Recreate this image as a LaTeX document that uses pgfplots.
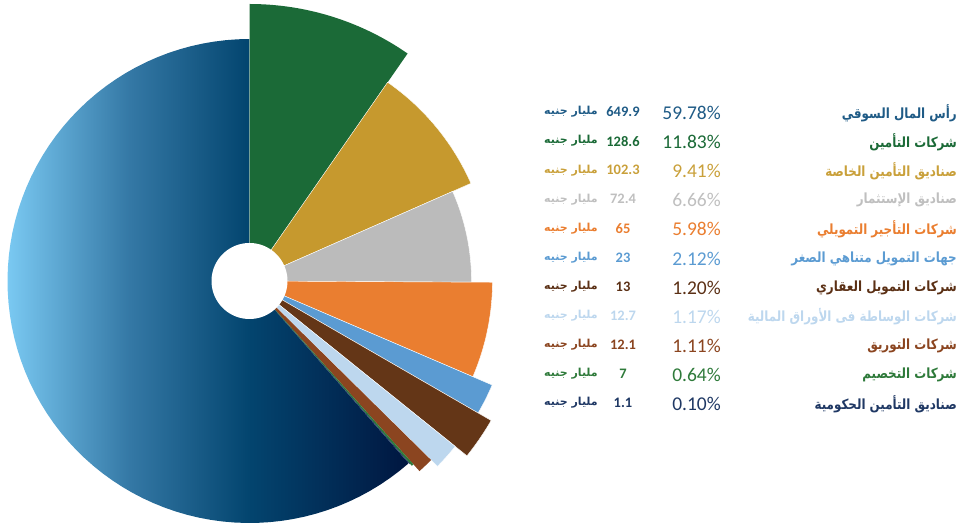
\documentclass[border=0pt]{standalone}
\usepackage{fontspec}
\setmainfont{Carlito}
\newfontfamily\arabicfont[Script=Arabic]{DejaVu Sans}
\newfontfamily\arabicnarrow[Script=Arabic, FakeStretch=0.85]{DejaVu Sans}
\TeXXeTstate=1
\usepackage{pgfplots}
\pgfplotsset{compat=1.18}

\definecolor{cBig}{HTML}{1F5B86}
\definecolor{cGreen}{HTML}{1B6A37}
\definecolor{cGold}{HTML}{C6992E}
\definecolor{cGray}{HTML}{BBBBBB}
\definecolor{cOrange}{HTML}{EA7E30}
\definecolor{cBlue}{HTML}{5B9BD2}
\definecolor{cBrown}{HTML}{643617}
\definecolor{cLight}{HTML}{BDD7EE}
\definecolor{cSienna}{HTML}{8B4520}
\definecolor{cGreen2}{HTML}{2E7A3A}
\definecolor{cNavy}{HTML}{1F3864}
\definecolor{tGold}{HTML}{C9A03A}
\definecolor{tGray}{HTML}{BFBFBF}
\definecolor{tBrown}{HTML}{5B3015}
\definecolor{cLightEdge}{HTML}{7AC9F2}
\definecolor{cMidBlue}{HTML}{3579A6}
\definecolor{cDeep}{HTML}{03456F}
\definecolor{cDark}{HTML}{001640}

% big slice: light blue at the left, dark navy at the right
\pgfdeclarehorizontalshading{bigblue}{100bp}{%
  color(0bp)=(cLightEdge); color(25bp)=(cLightEdge); color(40bp)=(cMidBlue);
  color(55bp)=(cDeep); color(75bp)=(cDark); color(100bp)=(cDark)}

% one wedge: options, start angle, end angle, radius (angles clockwise from the top)
\newcommand{\slice}[4]{%
  \addplot[#1, domain=#2:#3, samples=80, variable=\t]
    ({249.5+#4*sin(t)},{246+#4*cos(t)}) -- (axis cs:249.5,246) -- cycle;}

\begin{document}
\begin{tikzpicture}
\path[use as bounding box] (0,0) rectangle (961pt,527pt);
\begin{axis}[
    at={(0,0)}, anchor=south west,
    width=961pt, height=527pt, scale only axis,
    xmin=0, xmax=961, ymin=0, ymax=527,
    hide axis, clip=false]

  \slice{shading=bigblue, draw=none}{138.9}{360}{242}
  \slice{fill=cGreen, draw=none}{0}{34.8}{277}
  \slice{fill=cGold, draw=white, line width=0.4pt}{34.8}{66.2}{242}
  \slice{fill=cGray, draw=white, line width=0.4pt}{66.2}{90.3}{222}
  \slice{fill=cOrange, draw=white, line width=0.4pt}{90.3}{113.2}{243}
  \slice{fill=cBlue, draw=white, line width=0.4pt}{113.2}{120.0}{264}
  \slice{fill=cBrown, draw=white, line width=0.4pt}{120.0}{128.8}{279}
  \slice{fill=cLight, draw=white, line width=0.4pt}{128.8}{134.6}{264}
  \slice{fill=cSienna, draw=none}{134.6}{138.2}{255}
  \slice{fill=cGreen2, draw=none}{138.2}{138.7}{246}
  \slice{fill=cNavy, draw=none}{138.7}{138.9}{243}
  % hole
  \addplot[fill=white, draw=none, domain=0:360, samples=100, variable=\t]
    ({249.5+38*sin(t)},{246+38*cos(t)}) -- cycle;
\end{axis}

% legend rows: colour / name / share / amount (1pt = one axis unit)
\foreach \c/\name/\pct/\val [count=\i from 0] in {
    cBig/رأس المال السوقي/59.78/649.9,
    cGreen/شركات التأمين/11.83/128.6,
    tGold/صناديق التأمين الخاصة/9.41/102.3,
    tGray/صناديق الإستثمار/6.66/72.4,
    cOrange/شركات التأجير التمويلي/5.98/65,
    cBlue/جهات التمويل متناهي الصغر/2.12/23,
    tBrown/شركات التمويل العقاري/1.20/13,
    cLight/شركات الوساطة فى الأوراق المالية/1.17/12.7,
    cSienna/شركات التوريق/1.11/12.1,
    cGreen2/شركات التخصيم/0.64/7,
    cNavy/صناديق التأمين الحكومية/0.10/1.1} {
  \pgfmathsetmacro{\yy}{527-113-29.1*\i}
  \node[anchor=east, text=\c, inner sep=0pt, font=\arabicnarrow\bfseries\fontsize{14}{16}\selectfont]
    at (957pt,\yy pt) {\beginR\name\endR};
  \node[anchor=east, text=\c, inner sep=0pt, font=\fontsize{19.5}{22}\selectfont]
    at (721pt,\yy pt) {\pct\%};
  \node[anchor=center, text=\c, inner sep=0pt, font=\bfseries\fontsize{14.5}{16}\selectfont]
    at (623pt,\yy pt+1pt) {\val};
  \node[anchor=east, text=\c, inner sep=0pt, font=\arabicfont\bfseries\fontsize{11}{13}\selectfont]
    at (598pt,\yy pt+1pt) {\beginR مليار جنيه\endR};
}
\end{tikzpicture}
\end{document}
